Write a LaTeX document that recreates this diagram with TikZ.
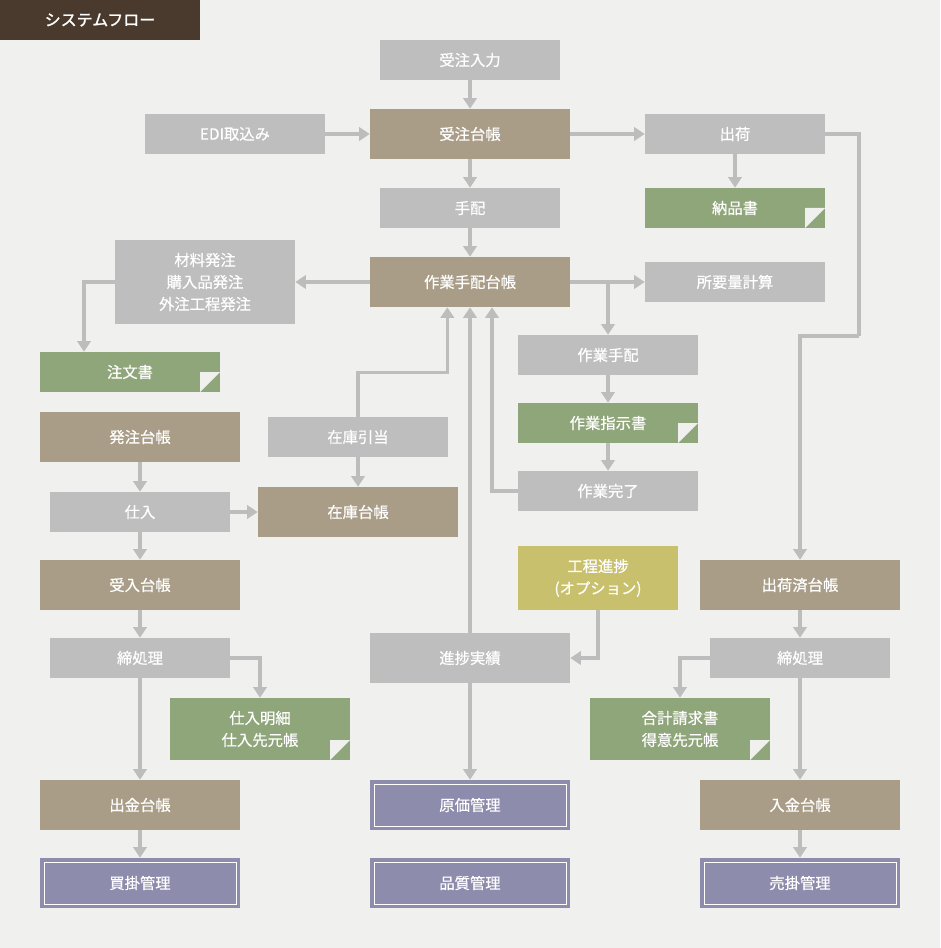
\documentclass[tikz,border=0pt]{standalone}
\usepackage{fontspec}
\usepackage{xcolor}
\usepackage{tikz}
\usetikzlibrary{arrows.meta}
\newfontfamily\jp{Noto Sans CJK JP}[FakeBold=0.5]
\newfontfamily\jpb{Noto Sans CJK JP}[FakeBold=1.4]
\definecolor{sfBack}{HTML}{F0F0EE}
\definecolor{sfTitle}{HTML}{4A3A2D}
\definecolor{sfGray}{HTML}{BEBEBE}
\definecolor{sfTaupe}{HTML}{AA9D88}
\definecolor{sfGreen}{HTML}{8FA57A}
\definecolor{sfOlive}{HTML}{C8C06C}
\definecolor{sfPurple}{HTML}{8E8CAC}
\definecolor{sfLine}{HTML}{BDBDBD}
\tikzset{
  sf diagram/.style={x=0.75pt, y=-0.75pt,
    font={\jp\fontsize{11.5}{16.5}\selectfont}},
  sf box/.style={inner sep=0pt, align=center, text=white,
    minimum width=135pt, minimum height=30pt},
  sf wide/.style={minimum width=150pt, minimum height=37.5pt},
  sf step/.style={sf box, fill=sfGray},
  sf ledger/.style={sf box, sf wide, fill=sfTaupe},
  sf doc/.style={sf box, fill=sfGreen,
    path picture={\fill[sfBack] ([xshift=-15pt]path picture bounding box.south east)
      -- ++(0,15pt) -- ++(15pt,0) -- cycle;}},
  sf option/.style={sf box, fill=sfOlive, minimum width=120pt, minimum height=48pt},
  sf manage/.style={sf box, sf wide, fill=sfPurple,
    path picture={\draw[white, line width=0.75pt]
      ([shift={(3pt,3pt)}]path picture bounding box.south west) rectangle
      ([shift={(-3pt,-3pt)}]path picture bounding box.north east);}},
  sf arrow/.style={-{Triangle[width=10pt,length=8pt]}, draw=sfLine, line width=2.4pt},
  sf link/.style={draw=sfLine, line width=2.4pt}
}
\begin{document}
\begin{tikzpicture}[sf diagram]
\fill[sfBack] (0,0) rectangle (940,948);
\useasboundingbox (0,0) rectangle (940,948);
\node[sf box, fill=sfTitle, minimum width=150pt, font={\jpb\fontsize{12}{14}\selectfont}] (title) at (100,20) {システムフロー};

\node[sf step] (ordin) at (470,60) {受注入力};
\node[sf step] (edi) at (235,134) {EDI取込み};
\node[sf ledger] (ordl) at (470,134) {受注台帳};
\node[sf step] (ship) at (735,134) {出荷};
\node[sf doc] (deliv) at (735,208) {納品書};
\node[sf step] (arr) at (470,208) {手配};
\node[sf step, minimum height=63pt] (purch) at (205,282) {材料発注\\購入品発注\\外注工程発注};
\node[sf ledger] (workl) at (470,282) {作業手配台帳};
\node[sf step] (calc) at (735,282) {所要量計算};
\node[sf doc] (po) at (130,372) {注文書};
\node[sf step] (work) at (608,355) {作業手配};
\node[sf doc] (instr) at (608,423) {作業指示書};
\node[sf step] (done) at (608,491) {作業完了};
\node[sf ledger] (pol) at (140,437) {発注台帳};
\node[sf step] (alloc) at (358,437) {在庫引当};
\node[sf ledger] (stock) at (358,512) {在庫台帳};
\node[sf step] (rcv) at (140,512) {仕入};
\node[sf option] (opt) at (598,578) {工程進捗\\(オプション)};
\node[sf ledger] (acc) at (140,585) {受入台帳};
\node[sf ledger] (shipped) at (800,585) {出荷済台帳};
\node[sf step] (closel) at (140,658) {締処理};
\node[sf step, sf wide] (actual) at (470,658) {進捗実績};
\node[sf step] (closer) at (800,658) {締処理};
\node[sf doc, minimum height=46.5pt] (pdet) at (260,729) {仕入明細\\仕入先元帳};
\node[sf doc, minimum height=46.5pt] (bill) at (680,729) {合計請求書\\得意先元帳};
\node[sf ledger] (payl) at (140,805) {出金台帳};
\node[sf manage] (cost) at (470,805) {原価管理};
\node[sf ledger] (recvl) at (800,805) {入金台帳};
\node[sf manage] (ap) at (140,883) {買掛管理};
\node[sf manage] (qual) at (470,883) {品質管理};
\node[sf manage] (ar) at (800,883) {売掛管理};
\coordinate (shipbend) at (859,336);

\draw[sf arrow] (ordin) -- (ordl);
\draw[sf arrow] (edi) -- (ordl);
\draw[sf arrow] (ordl) -- (ship);
\draw[sf arrow] (ship) -- (deliv);
\draw[sf arrow] (ordl) -- (arr);
\draw[sf arrow] (arr) -- (workl);
\draw[sf arrow] (workl) -- (purch);
\draw[sf arrow] (workl) -- (calc);
\draw[sf arrow] (workl.east) -| (work.north);
\draw[sf arrow] (purch.west) -| ([xshift=-34.5pt]po.north);
\draw[sf link] (ship.east) -| (shipbend);
\draw[sf arrow] (shipbend) -| (shipped.north);
\draw[sf arrow] (work) -- (instr);
\draw[sf arrow] (instr) -- (done);
\draw[sf arrow] (done.west) -| ([xshift=16.5pt]workl.south);
\draw[sf arrow] (alloc.north) -- ++(0,-44) -| ([xshift=-17pt]workl.south);
\draw[sf arrow] (alloc) -- (stock);
\draw[sf arrow] (actual) -- (workl);
\draw[sf arrow] (opt.south) |- (actual.east);
\draw[sf arrow] (actual) -- (cost);
\draw[sf arrow] (pol) -- (rcv);
\draw[sf arrow] (rcv) -- (stock);
\draw[sf arrow] (rcv) -- (acc);
\draw[sf arrow] (acc) -- (closel);
\draw[sf arrow] (closel.east) -| (pdet.north);
\draw[sf arrow] (closel) -- (payl);
\draw[sf arrow] (payl) -- (ap);
\draw[sf arrow] (shipped) -- (closer);
\draw[sf arrow] (closer.west) -| (bill.north);
\draw[sf arrow] (closer) -- (recvl);
\draw[sf arrow] (recvl) -- (ar);
\end{tikzpicture}
\end{document}
